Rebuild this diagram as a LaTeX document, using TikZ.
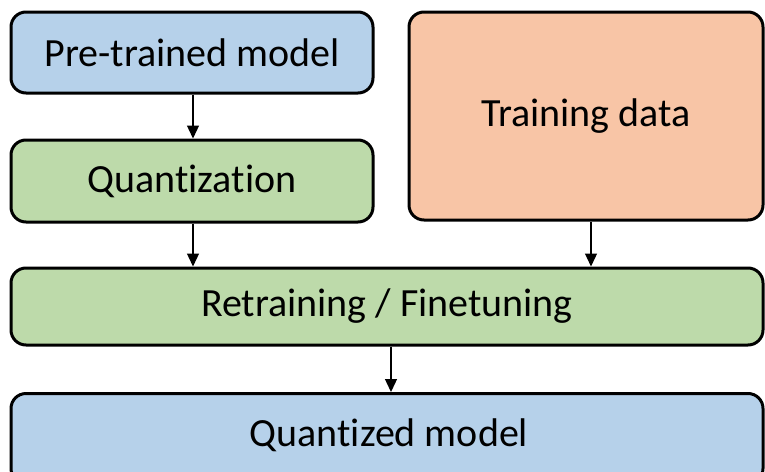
\documentclass[tikz,border=0pt]{standalone}
\usepackage{fontspec}
\setmainfont{Carlito}[Ligatures=NoCommon]
\usetikzlibrary{arrows.meta}
\definecolor{boxblue}{RGB}{182,209,234}
\definecolor{boxgreen}{RGB}{189,218,170}
\definecolor{boxsalmon}{RGB}{248,197,166}
\newcommand{\lowtxt}[1]{\raisebox{-3pt}{#1}}
\tikzset{
  box/.style={draw=black, line width=3pt, rounded corners=15pt, inner sep=0pt, font=\fontsize{40}{46}\selectfont},
  conn/.style={line width=1.3pt, -{Triangle[width=12pt,length=13pt]}}
}
\begin{document}
\begin{tikzpicture}[x=1pt,y=-1pt]
\useasboundingbox (0,0) rectangle (765,471);
\clip (0,0) rectangle (765,471);
\node[box, fill=boxblue, minimum width=362pt, minimum height=81pt] (pre) at (192,52.5) {\lowtxt{Pre-trained model}};
\node[box, fill=boxsalmon, minimum width=354pt, minimum height=208pt] (train) at (586,116) {\lowtxt{Training data}};
\node[box, fill=boxgreen, minimum width=362pt, minimum height=82pt] (quant) at (192,181) {\lowtxt{Quantization}};
\node[box, fill=boxgreen, minimum width=752pt, minimum height=77pt] (retrain) at (387,306.5) {\lowtxt{Retraining / Finetuning}};
\node[box, fill=boxblue, minimum width=752pt, minimum height=90pt, anchor=north] (qm) at (387,392) {};
\node[font=\fontsize{40}{46}\selectfont] (qmt) at (389,435) {Quantized model};
\draw[conn] (pre.south -| 193,0) -- (quant.north -| 193,0);
\draw[conn] (quant.south -| 193,0) -- (retrain.north -| 193,0);
\draw[conn] (train.south -| 591,0) -- (retrain.north -| 591,0);
\draw[conn] (retrain.south -| 391,0) -- (qm.north -| 391,0);
\end{tikzpicture}
\end{document}
